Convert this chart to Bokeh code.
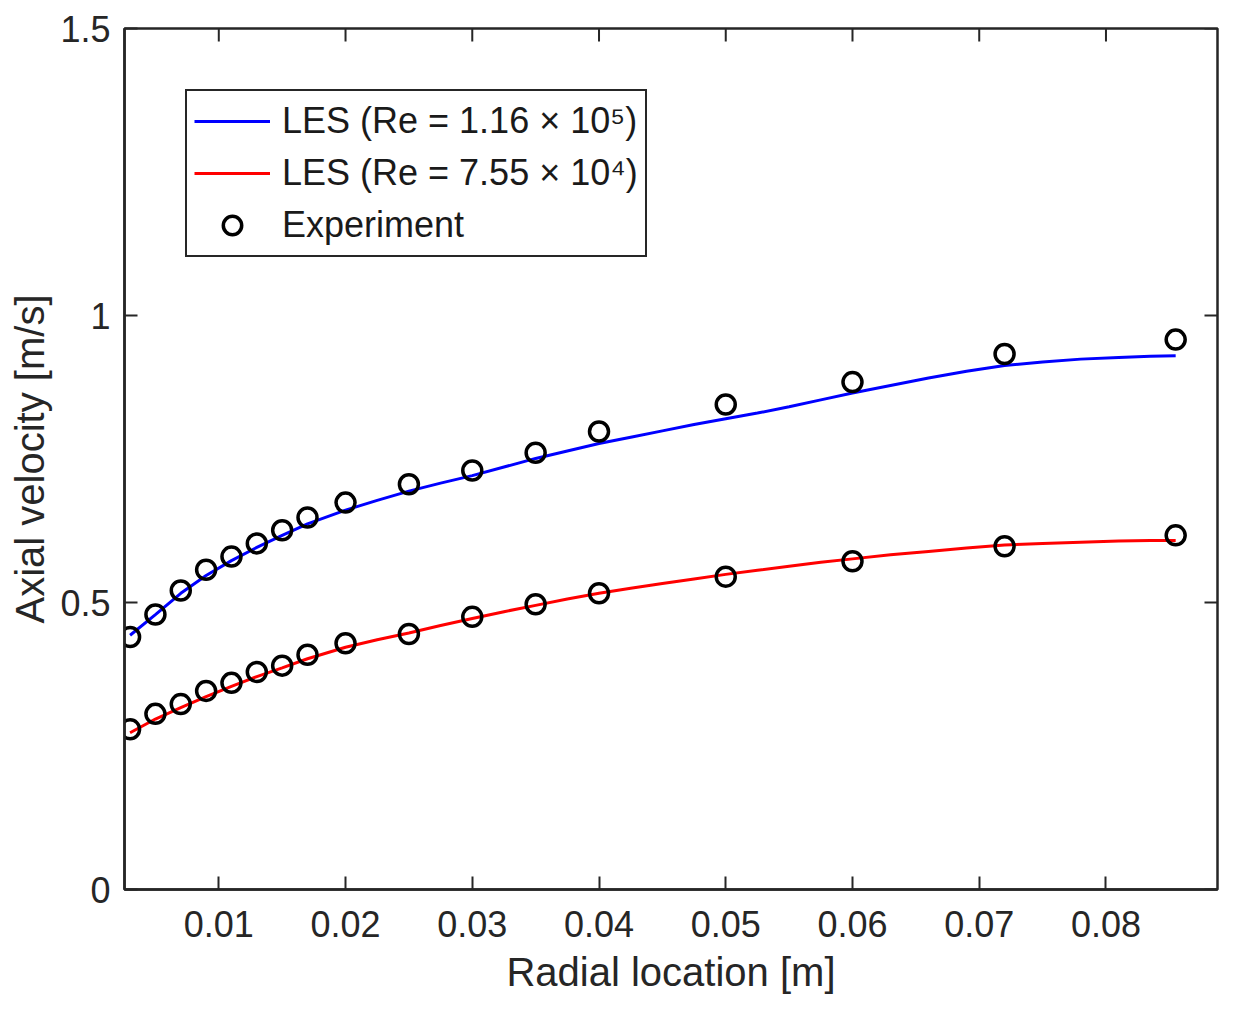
import numpy as np
from bokeh.plotting import figure
from bokeh.embed import file_html
from bokeh.resources import INLINE
from bokeh.models import Range1d, FixedTicker, Legend, LegendItem

# experiment points
x_exp = [0.003, 0.005, 0.007, 0.009, 0.011, 0.013, 0.015, 0.017, 0.020,
         0.025, 0.030, 0.035, 0.040, 0.050, 0.060, 0.072, 0.0855]
exp_high = [0.440, 0.479, 0.521, 0.557, 0.580, 0.603, 0.626, 0.648, 0.674,
            0.706, 0.730, 0.761, 0.798, 0.845, 0.884, 0.933, 0.958]
exp_low = [0.279, 0.306, 0.323, 0.346, 0.360, 0.379, 0.390, 0.409, 0.429,
           0.445, 0.475, 0.497, 0.516, 0.545, 0.572, 0.598, 0.617]

# LES profiles
x_les = [0.003, 0.005, 0.007, 0.009, 0.011, 0.013, 0.015, 0.017, 0.020, 0.0225,
         0.025, 0.0275, 0.030, 0.0325, 0.035, 0.0375, 0.040, 0.0425, 0.045, 0.0475,
         0.050, 0.0525, 0.055, 0.0575, 0.060, 0.063, 0.066, 0.069, 0.072, 0.075,
         0.078, 0.081, 0.0835, 0.0855]
les_high = [0.443, 0.479, 0.516, 0.547, 0.573, 0.596, 0.617, 0.637, 0.661, 0.678,
            0.694, 0.708, 0.721, 0.736, 0.751, 0.764, 0.777, 0.788, 0.799, 0.810,
            0.820, 0.830, 0.841, 0.853, 0.865, 0.878, 0.891, 0.903, 0.913, 0.919,
            0.924, 0.927, 0.929, 0.930]
les_low = [0.273, 0.297, 0.317, 0.336, 0.354, 0.371, 0.386, 0.402, 0.422, 0.435,
           0.447, 0.460, 0.472, 0.484, 0.495, 0.506, 0.516, 0.525, 0.533, 0.541,
           0.549, 0.556, 0.563, 0.570, 0.576, 0.583, 0.589, 0.595, 0.600, 0.603,
           0.605, 0.607, 0.608, 0.608]

x_ticks = [0.01, 0.02, 0.03, 0.04, 0.05, 0.06, 0.07, 0.08]
y_ticks = [0, 0.5, 1, 1.5]

labels = ["LES (Re = 1.16 \u00d7 10\u2075)", "LES (Re = 7.55 \u00d7 10\u2074)", "Experiment"]

FONT = "Liberation Sans"
AX = "#262626"
XMIN, XMAX = 0.00256, 0.0888
YMIN, YMAX = 0, 1.5
FW, FH = 1093, 861
TICK = 13

p = figure(frame_width=FW, frame_height=FH,
           x_range=Range1d(XMIN, XMAX), y_range=Range1d(YMIN, YMAX),
           output_backend="svg", toolbar_location=None,
           min_border_left=124, min_border_right=12, min_border_top=28, min_border_bottom=110)
p.xgrid.grid_line_color = None
p.ygrid.grid_line_color = None
p.outline_line_color = AX
p.outline_line_width = 2.5
p.outline_line_alpha = 1
p.background_fill_color = "white"

r_hi = p.line(x_les, les_high, color="#0000ff", line_width=3)
r_lo = p.line(x_les, les_low, color="#ff0000", line_width=3)
r_exp = p.scatter(x_exp, exp_high, size=19, fill_color=None, line_color="black", line_width=3.5)
p.scatter(x_exp, exp_low, size=19, fill_color=None, line_color="black", line_width=3.5)

# axes styling, ticks inside like matlab
for ax, ticks in ((p.xaxis[0], x_ticks), (p.yaxis[0], y_ticks)):
    ax.ticker = FixedTicker(ticks=ticks)
    ax.axis_line_color = AX
    ax.axis_line_width = 2.5
    ax.major_tick_line_color = AX
    ax.major_tick_line_width = 2
    ax.major_tick_in = TICK
    ax.major_tick_out = 0
    ax.minor_tick_line_color = None
    ax.major_label_text_font = FONT
    ax.major_label_text_color = AX
    ax.major_label_text_font_size = "36px"
    ax.axis_label_text_font = FONT
    ax.axis_label_text_font_size = "40px"
    ax.axis_label_text_font_style = "normal"
    ax.axis_label_text_color = AX

p.xaxis[0].major_label_overrides = {t: ("%.2f" % t) for t in x_ticks}
p.yaxis[0].major_label_overrides = {0: "0", 0.5: "0.5", 1: "1", 1.5: "1.5"}
p.xaxis[0].major_label_standoff = 21
p.yaxis[0].major_label_standoff = 14
p.xaxis[0].axis_label = "Radial location [m]"
p.yaxis[0].axis_label = "Axial velocity [m/s]"
p.xaxis[0].axis_label_standoff = 10
p.yaxis[0].axis_label_standoff = 5

# tick marks on the top and right edges of the box
dy = TICK * (YMAX - YMIN) / FH
dx = TICK * (XMAX - XMIN) / FW
p.segment(x0=x_ticks, y0=[YMAX] * len(x_ticks), x1=x_ticks, y1=[YMAX - dy] * len(x_ticks),
          line_color=AX, line_width=2)
p.segment(x0=[XMAX] * len(y_ticks), y0=y_ticks, x1=[XMAX - dx] * len(y_ticks), y1=y_ticks,
          line_color=AX, line_width=2)

legend = Legend(items=[LegendItem(label=labels[0], renderers=[r_hi]),
                       LegendItem(label=labels[1], renderers=[r_lo]),
                       LegendItem(label=labels[2], renderers=[r_exp])],
                location=(61, 632))
legend.label_text_font = FONT
legend.label_text_font_size = "36px"
legend.label_text_color = "#1a1a1a"
legend.glyph_width = 76
legend.glyph_height = 46
legend.label_height = 46
legend.spacing = 6
legend.padding = 7
legend.margin = 0
legend.label_standoff = 12
legend.border_line_color = AX
legend.border_line_width = 2.5
legend.border_line_alpha = 1
legend.background_fill_alpha = 1
p.add_layout(legend, "center")

open("out.html", "w").write(file_html(p, INLINE))
